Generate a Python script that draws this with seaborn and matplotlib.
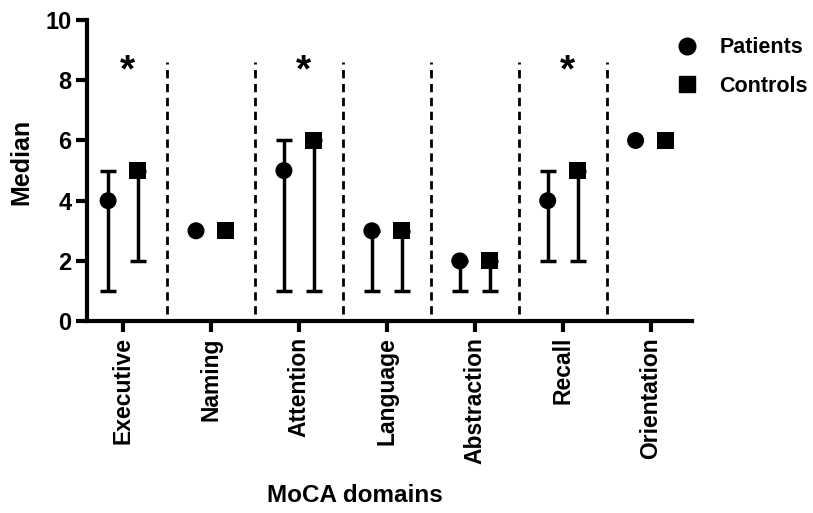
import matplotlib
matplotlib.use("Agg")
import matplotlib.pyplot as plt
import seaborn as sns
import numpy as np
import pandas as pd
from matplotlib.lines import Line2D

domains = ["Executive", "Naming", "Attention", "Language", "Abstraction", "Recall", "Orientation"]
patients_median = [4, 3, 5, 3, 2, 4, 6]
patients_low = [1, 3, 1, 1, 1, 2, 6]
patients_high = [5, 3, 6, 3, 2, 5, 6]
controls_median = [5, 3, 6, 3, 2, 5, 6]
controls_low = [2, 3, 1, 1, 1, 2, 6]
controls_high = [5, 3, 6, 3, 2, 5, 6]
significant = ["Executive", "Attention", "Recall"]
y_ticks = [0, 2, 4, 6, 8, 10]

sns.set_theme(style="ticks")
plt.rcParams['font.family'] = ['Liberation Sans', 'DejaVu Sans']
plt.rcParams['font.weight'] = 'bold'
for k in ["text.color", "axes.labelcolor", "xtick.color", "ytick.color", "axes.edgecolor"]:
    plt.rcParams[k] = "black"

rows = []
for i, d in enumerate(domains):
    rows.append(dict(domain=d, idx=i, group="Patients", median=patients_median[i],
                     low=patients_low[i], high=patients_high[i], offset=-0.17))
    rows.append(dict(domain=d, idx=i, group="Controls", median=controls_median[i],
                     low=controls_low[i], high=controls_high[i], offset=0.17))
df = pd.DataFrame(rows)
df["x"] = df["idx"] + df["offset"]

fig = plt.figure(figsize=(8.13, 5.13), dpi=100)
ax = fig.add_axes([0.107, 0.374, 0.744, 0.587])

for _, r in df.iterrows():
    if r["high"] > r["low"]:
        ax.errorbar(r["x"], r["median"],
                    yerr=[[r["median"] - r["low"]], [r["high"] - r["median"]]],
                    fmt="none", ecolor="black", elinewidth=2.5, capsize=6, capthick=2.5, zorder=2)

sns.scatterplot(data=df, x="x", y="median", style="group", markers={"Patients": "o", "Controls": "s"},
                color="black", s=150, edgecolor="black", linewidth=0, ax=ax, zorder=3, legend=False)

for k in range(len(domains) - 1):
    ax.plot([k + 0.5, k + 0.5], [0.25, 8.6], linestyle=(0, (3, 2)), color="black", linewidth=2, zorder=1)

for d in significant:
    i = domains.index(d)
    ax.text(i + 0.05, 7.7, "*", ha="center", va="bottom", fontsize=28, fontweight="bold")

ax.set_xlim(-0.41, 6.47)
ax.set_ylim(0, 10)
ax.set_yticks(y_ticks)
ax.set_xticks(range(len(domains)))
ax.set_xticklabels(domains, rotation=90, fontsize=16.5, fontweight="bold")
ax.tick_params(axis="y", labelsize=17, width=3, length=8, pad=3)
ax.tick_params(axis="x", width=3, length=8)
for lab in ax.get_yticklabels():
    lab.set_fontweight("bold")
for s in ["left", "bottom"]:
    ax.spines[s].set_linewidth(3)
sns.despine(ax=ax)
ax.set_xlabel("MoCA domains", fontsize=17.5, fontweight="bold")
ax.xaxis.set_label_coords(0.443, -0.54)
ax.set_ylabel("Median", fontsize=18, fontweight="bold")
ax.yaxis.set_label_coords(-0.088, 0.53)

handles = [Line2D([], [], marker="o", color="black", linestyle="none", markersize=12),
           Line2D([], [], marker="s", color="black", linestyle="none", markersize=11)]
fig.legend(handles, ["Patients", "Controls"], loc="upper left", bbox_to_anchor=(0.795, 0.965),
           frameon=False, prop={"size": 15.5, "weight": "bold"}, handletextpad=0.5, labelspacing=0.8)

fig.savefig("out.png", dpi=100)
